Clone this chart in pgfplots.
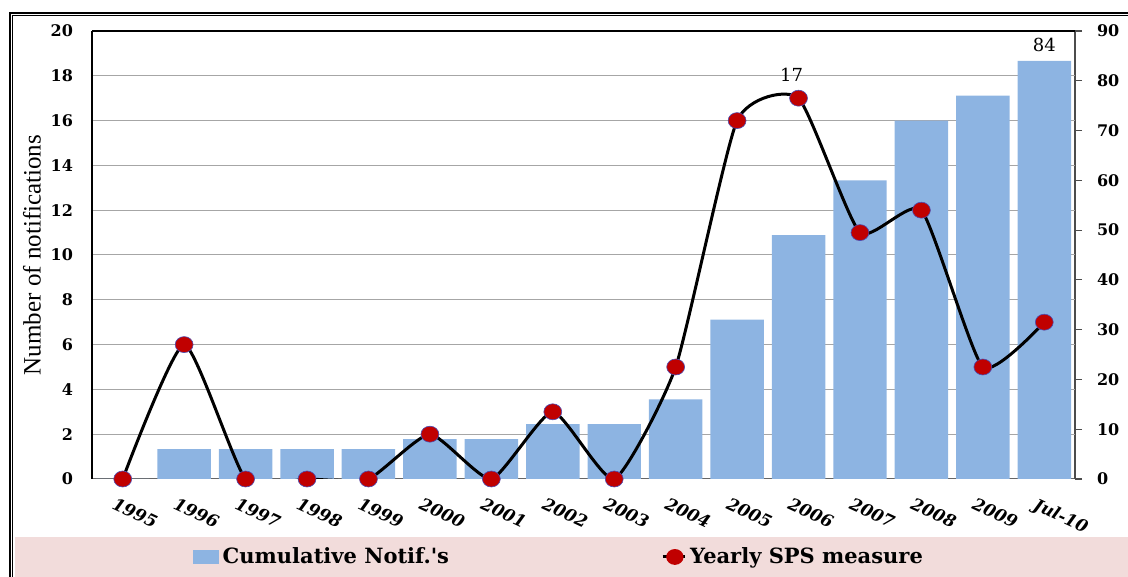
\documentclass[border=0pt]{standalone}
\usepackage{fontspec}
\setmainfont{Liberation Serif}
\newfontfamily\dvs{DejaVu Serif}
\usepackage{pgfplots}
\pgfplotsset{compat=1.18}
\definecolor{barblue}{HTML}{8DB4E2}
\definecolor{dotred}{HTML}{C00000}
\definecolor{legpink}{HTML}{F2DCDB}
\definecolor{gridgray}{HTML}{A6A6A6}

\pgfplotsset{
  common/.style={
    at={(46pt,49pt)}, anchor=south west, scale only axis,
    width=491.5pt, height=224pt,
    xmin=-0.5, xmax=15.5,
    /pgf/number format/assume math mode=true,
    yticklabel style={font=\dvs\bfseries\fontsize{8}{9}\selectfont},
  }
}

\begin{document}
\begin{tikzpicture}[x=1pt,y=1pt]
% frame and legend band
\fill[legpink] (7.5,0) rectangle (564,20);
\draw[line width=1pt] (5,0) -- (5,281.9) -- (564,281.9);
\draw[line width=0.5pt] (6.4,0) -- (6.4,280.6) -- (564,280.6);

% cumulative bars, right axis
\begin{axis}[common,
  ymin=0, ymax=90,
  axis y line*=right, axis x line*=bottom,
  ytick={0,10,...,90},
  extra y ticks={9,18,27,36,45,54,63,72,81},
  extra y tick labels={},
  extra y tick style={grid=major, major tick length=0pt},
  grid style={gridgray, line width=0.5pt},
  x axis line style={gray!80!black, line width=0.5pt},
  y axis line style={gray!60!black, line width=1pt},
  ytick style={gray!60!black, line width=0.6pt},
  tick align=outside, major tick length=3.5pt,
  xtick={0,...,15}, xtick style={draw=none},
  xticklabels={1995,1996,1997,1998,1999,2000,2001,2002,2003,2004,2005,2006,2007,2008,2009,Jul-10},
  xticklabel style={font=\dvs\bfseries\itshape\fontsize{8.5}{9}\selectfont,
    rotate=-25, anchor=north west, xshift=-4pt, yshift=-3pt},
  yticklabel style={xshift=4pt},
]
\addplot[ybar, bar width=0.87, fill=barblue, draw=none] coordinates {
  (0,0) (1,6) (2,6) (3,6) (4,6) (5,8) (6,8) (7,11) (8,11) (9,16)
  (10,32) (11,49) (12,60) (13,72) (14,77) (15,84)};
\node[anchor=south, font=\dvs\fontsize{9}{10}\selectfont, yshift=1pt] at (axis cs:15,84) {84};
\end{axis}

% yearly measures, left axis
\begin{axis}[common,
  ymin=0, ymax=20,
  axis y line*=left, axis x line*=top,
  xtick=\empty, ytick={0,2,...,20},
  major tick length=0pt,
  axis line style={black, line width=1pt},
  yticklabel style={xshift=-6pt},
  ylabel={Number of notifications},
  every axis y label/.style={at={(axis description cs:0,0.5)}, xshift=-30pt,
    rotate=90, anchor=center, font=\fontsize{12.5}{13}\selectfont},
  clip=true, clip marker paths=false,
  legend columns=2,
  legend style={at={(0.476,-0.174)}, anchor=center, draw=none, fill=none,
    font=\dvs\bfseries\fontsize{10.5}{11}\selectfont,
    /tikz/every even column/.append style={column sep=104pt}},
]
\addlegendimage{legend image code/.code={\fill[barblue] (0pt,-3pt) rectangle (12.5pt,3.5pt);}}
\addlegendentry{Cumulative Notif.'s}
\addplot[black, line width=1.5pt, smooth, tension=0.32,
  mark=*, mark size=4pt,
  mark options={fill=dotred, draw=blue!40!gray, line width=0.3pt, xscale=1.12},
  legend image code/.code={
    \draw[black, line width=1.5pt] (0pt,0pt) -- (11pt,0pt);
    \fill[dotred, xscale=1.12] (5.5pt,0pt) circle (3.2pt);}]
  coordinates {
  (0,0) (1,6) (2,0) (3,0) (4,0) (5,2) (6,0) (7,3) (8,0) (9,5)
  (10,16) (11,17) (12,11) (13,12) (14,5) (15,7)};
\addlegendentry{Yearly SPS measure}
\node[anchor=south, font=\dvs\fontsize{9}{10}\selectfont, xshift=-3.5pt, yshift=5pt] at (axis cs:11,17) {17};
\end{axis}
\pgfresetboundingbox
\useasboundingbox (0,0) rectangle (564,288.5);
\end{tikzpicture}
\end{document}
